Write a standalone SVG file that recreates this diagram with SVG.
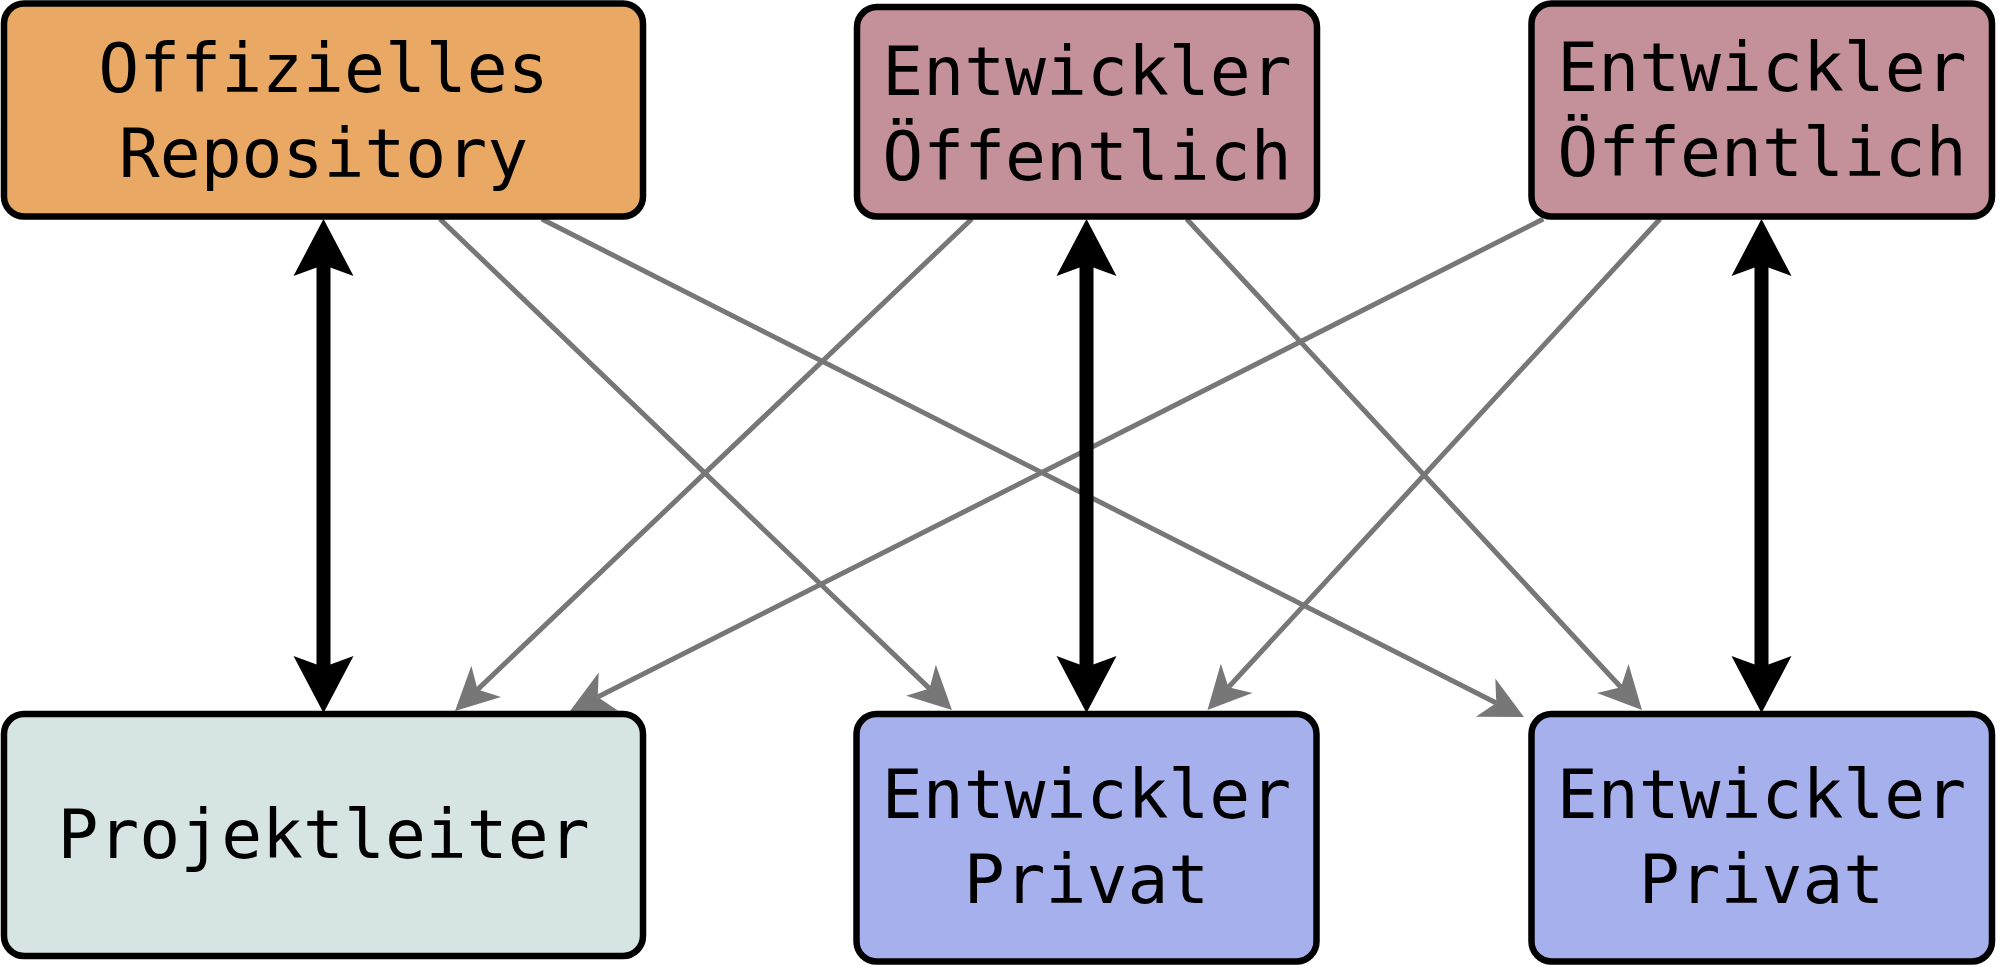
<svg xmlns="http://www.w3.org/2000/svg" width="2000" height="967" viewBox="0 0 2000 967">
  <style>
    .box { stroke: #000; stroke-width: 6.5; }
    .official { fill: #E9A964; }
    .public { fill: #C4909A; }
    .lead { fill: #D6E4E4; }
    .private { fill: #A6B0EC; }
    .label { font-family: "DejaVu Sans Mono", "Liberation Mono", monospace; font-size: 68px; fill: #000; text-anchor: middle; }
    .gray { stroke: #777777; stroke-width: 5; fill: none; marker-end: url(#grayHead); }
    .black { stroke: #000; stroke-width: 14; fill: none; marker-start: url(#blackHead); marker-end: url(#blackHead); }
  </style>
  <defs>
    <marker id="blackHead" markerUnits="userSpaceOnUse" markerWidth="57" markerHeight="60" viewBox="0 -30 57 60" refX="11" refY="0" orient="auto-start-reverse" overflow="visible">
      <path d="M0,-30 L57,0 L0,30 L11,0 Z" fill="#000"/>
    </marker>
    <marker id="grayHead" markerUnits="userSpaceOnUse" markerWidth="43" markerHeight="43" viewBox="0 -21.5 43 43" refX="12" refY="0" orient="auto" overflow="visible">
      <path d="M0,-21.5 L43,0 L0,21.5 L12,0 Z" fill="#777777"/>
    </marker>
  </defs>

  <g id="connectors">
    <path class="gray" d="M440,219 L929.6,688.6"/>
    <path class="gray" d="M541.7,219 L1496.3,703"/>
    <path class="gray" d="M971.7,219 L477.5,689.6"/>
    <path class="gray" d="M1186.7,219 L1620.9,687.3"/>
    <path class="gray" d="M1543.3,219 L597.7,697"/>
    <path class="gray" d="M1660,219 L1228.5,687.2"/>
    <path class="black" d="M323.5,265 L323.5,667"/>
    <path class="black" d="M1086.5,265 L1086.5,667"/>
    <path class="black" d="M1761.5,265 L1761.5,667"/>
  </g>

  <g id="node-official">
    <rect class="box official" x="4" y="3.5" width="639" height="213" rx="20"/>
    <text class="label" x="323.5" y="92">Offizielles</text>
    <text class="label" x="323.5" y="177">Repository</text>
  </g>
  <g id="node-public-1">
    <rect class="box public" x="857" y="7" width="460" height="209.5" rx="20"/>
    <text class="label" x="1087" y="94.5">Entwickler</text>
    <text class="label" x="1087" y="179.5">Öffentlich</text>
  </g>
  <g id="node-public-2">
    <rect class="box public" x="1531.5" y="3.5" width="460.5" height="213" rx="20"/>
    <text class="label" x="1762" y="91">Entwickler</text>
    <text class="label" x="1762" y="176">Öffentlich</text>
  </g>
  <g id="node-lead">
    <rect class="box lead" x="4" y="714" width="639" height="242" rx="20"/>
    <text class="label" x="323.5" y="858">Projektleiter</text>
  </g>
  <g id="node-private-1">
    <rect class="box private" x="856.5" y="714" width="460" height="247.5" rx="20"/>
    <text class="label" x="1086.5" y="818">Entwickler</text>
    <text class="label" x="1086.5" y="903">Privat</text>
  </g>
  <g id="node-private-2">
    <rect class="box private" x="1531.5" y="714" width="460.5" height="247.5" rx="20"/>
    <text class="label" x="1761.5" y="818">Entwickler</text>
    <text class="label" x="1761.5" y="903">Privat</text>
  </g>
</svg>
